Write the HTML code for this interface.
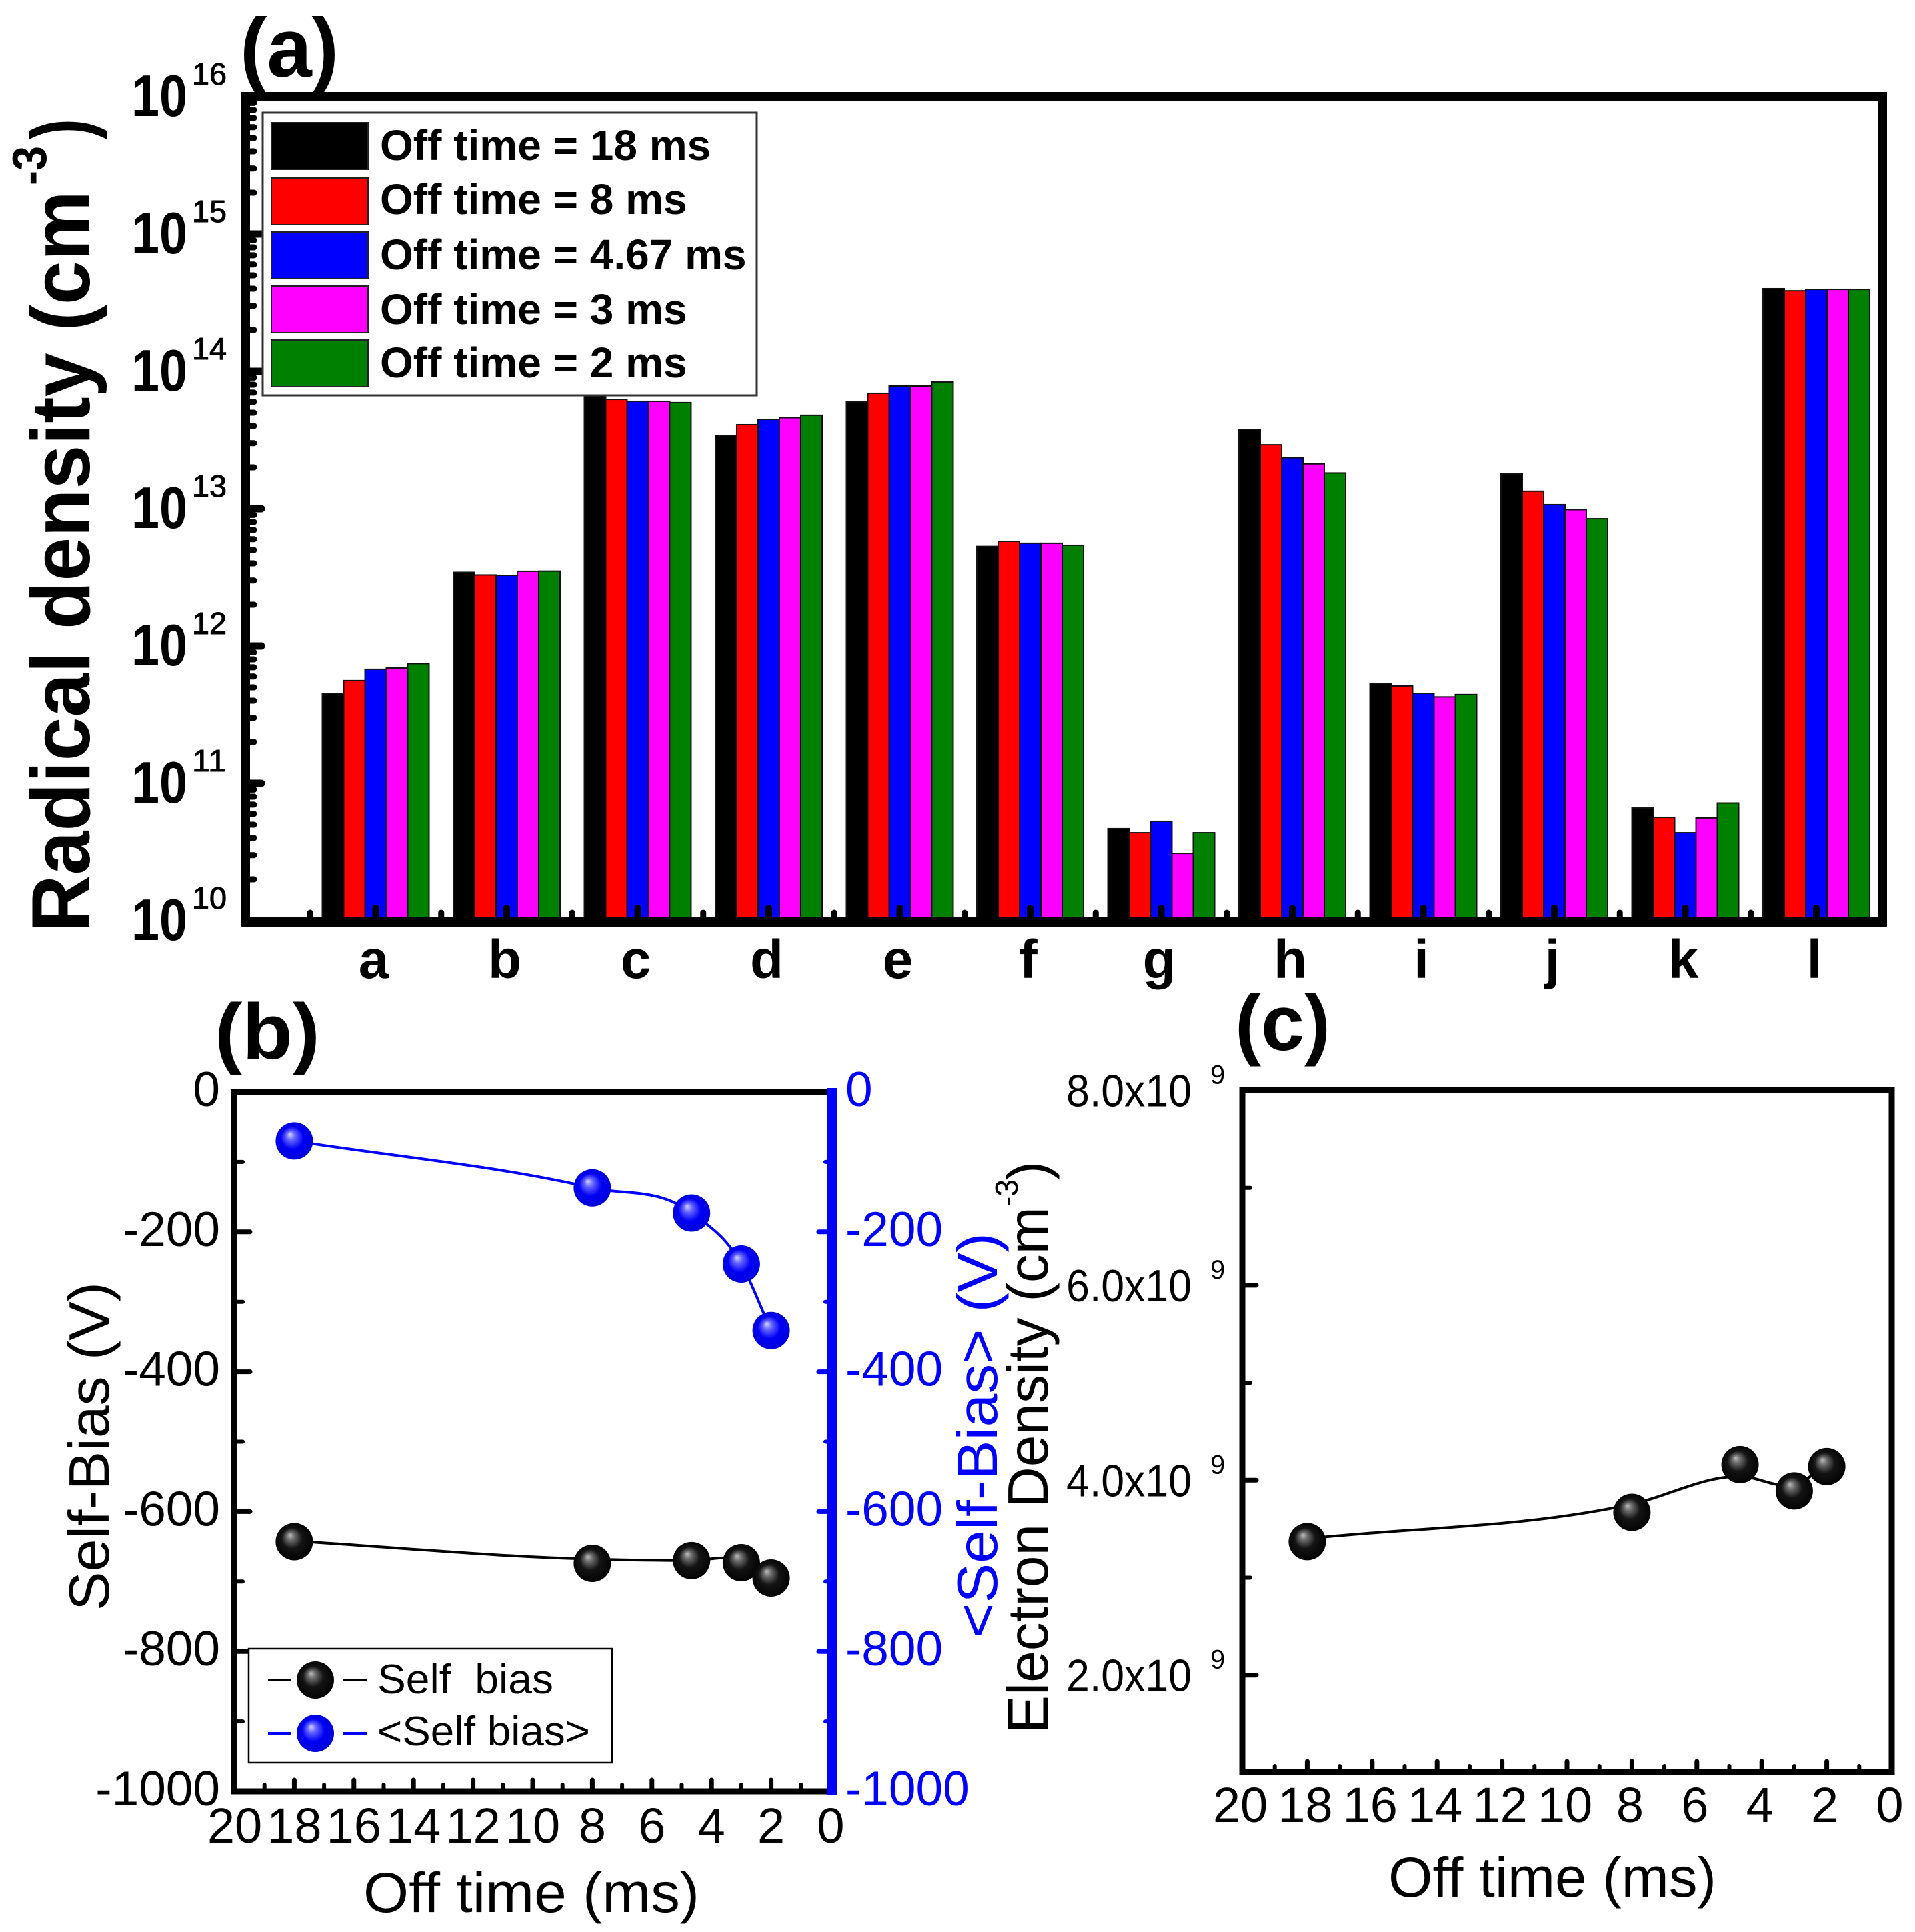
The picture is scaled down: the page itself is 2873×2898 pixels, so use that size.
<!DOCTYPE html>
<html lang="en">
<head>
<meta charset="utf-8">
<title>Radical density, self-bias and electron density versus off time</title>
<style>
html,body{margin:0;padding:0;background:#fff}
svg{display:block}
text{font-family:"Liberation Sans",Arial,sans-serif}
</style>
</head>
<body>
<svg id="figure" xmlns="http://www.w3.org/2000/svg" width="2873" height="2898" viewBox="0 0 2873 2898">
  <defs>
    <radialGradient id="ball-black" cx="0.5" cy="0.5" r="0.55" fx="0.38" fy="0.32">
      <stop offset="0" stop-color="#bdbdbd"/>
      <stop offset="0.2" stop-color="#6a6a6a"/>
      <stop offset="0.5" stop-color="#141414"/>
      <stop offset="1" stop-color="#000"/>
    </radialGradient>
    <radialGradient id="ball-blue" cx="0.5" cy="0.5" r="0.55" fx="0.38" fy="0.32">
      <stop offset="0" stop-color="#d4d4ff"/>
      <stop offset="0.22" stop-color="#6464ff"/>
      <stop offset="0.55" stop-color="#0000f4"/>
      <stop offset="1" stop-color="#0000d8"/>
    </radialGradient>
  </defs>
</svg>
<script>
/* ---------- panel (a) data ---------- */
var categories = ['a','b','c','d','e','f','g','h','i','j','k','l'];
var seriesNames = ['Off time = 18 ms','Off time = 8 ms','Off time = 4.67 ms','Off time = 3 ms','Off time = 2 ms'];
var seriesColors = ['#000000','#ff0000','#0000ff','#ff00ff','#008000'];
var offTime18 = [4.52e11,3.44e12,7.0e13,3.42e13,5.98e13,5.31e12,4.68e10,3.78e13,5.32e11,1.79e13,6.61e10,4.0e14];
var offTime8 = [5.6e11,3.29e12,6.25e13,4.09e13,6.92e13,5.78e12,4.37e10,2.92e13,5.12e11,1.34e13,5.65e10,3.86e14];
var offTime467 = [6.77e11,3.27e12,6.05e13,4.47e13,7.82e13,5.6e12,5.29e10,2.35e13,4.52e11,1.07e13,4.37e10,3.95e14];
var offTime3 = [6.92e11,3.5e12,6.05e13,4.6e13,7.82e13,5.6e12,3.09e10,2.12e13,4.26e11,9.84e12,5.6e10,3.95e14];
var offTime2 = [7.44e11,3.51e12,5.92e13,4.79e13,8.36e13,5.41e12,4.37e10,1.82e13,4.43e11,8.45e12,7.19e10,3.95e14];
var decadeExponents = [10,11,12,13,14,15,16];
var decadeLabels = ['10','10','10','10','10','10','10'];

/* ---------- panel (b) data ---------- */
var offTimes = [18,8,4.67,3,2];
var selfBias = [-643,-674,-670,-673,-695];
var selfBiasTrend = [-642,-668,-670,-670,-695];
var meanSelfBias = [-70,-137,-173,-246,-341];
var biasTicks = [0,-200,-400,-600,-800,-1000];
var biasMinorTicks = [-100,-300,-500,-700,-900];
var timeTicks = [20,18,16,14,12,10,8,6,4,2,0];
var timeMinorTicks = [19,17,15,13,11,9,7,5,3,1];

/* ---------- panel (c) data ---------- */
var electronDensity = [3.37,3.67,4.16,3.89,4.14];
var electronDensityTrend = [3.4,3.755,4.04,3.96,4.14];
var densityTicks = [8,6,4,2];
var densityTickLabels = ['8.0x10','6.0x10','4.0x10','2.0x10'];
var densityMinorTicks = [7,5,3];

/* ---------- axis functions ---------- */
function yA(v){ return 1381 - 206 * (Math.log10(v) - 10); }
function xA(i){ return 563.5 + 196.5 * i; }
function xB(t){ return 1246 - 44.7 * t; }
function yB(v){ return 1638 - 1.049 * v; }
function xC(t){ return 2838 - 48.7 * t; }
function yC(v){ return 1635.5 + (8 - v) * 146.2; }

/* ---------- helpers ---------- */
var NS = 'http://www.w3.org/2000/svg';
var root = document.getElementById('figure');
function make(tag, attrs, parent){
  var n = document.createElementNS(NS, tag);
  for (var k in attrs) n.setAttribute(k, attrs[k]);
  (parent || root).appendChild(n);
  return n;
}
function group(){
  return make('g', {});
}
function line(x1,y1,x2,y2,color,w,cap,parent){
  return make('line',{x1:x1,y1:y1,x2:x2,y2:y2,stroke:color,'stroke-width':w,'stroke-linecap':cap||'butt'},parent);
}
function label(str,x,y,size,opts,parent){
  var a = {x:x,y:y,'font-size':size,fill:(opts&&opts.fill)||'#000'};
  if (opts&&opts.bold) a['font-weight']='bold';
  if (opts&&opts.anchor) a['text-anchor']=opts.anchor;
  if (opts&&opts.len){ a.textLength=opts.len; a.lengthAdjust='spacingAndGlyphs'; }
  if (opts&&opts.rot) a.transform='rotate(-90 '+x+' '+y+')';
  var n = make('text',a,parent);
  n.textContent = str;
  return n;
}
/* non-uniform cubic through points, so unequal x spacing does not overshoot */
function smoothPath(pts){
  var n = pts.length, slopes = [], i;
  for (i=0;i<n;i++){
    if (i===0){ slopes.push((pts[1][1]-pts[0][1])/(pts[1][0]-pts[0][0])); }
    else if (i===n-1){ slopes.push((pts[n-1][1]-pts[n-2][1])/(pts[n-1][0]-pts[n-2][0])); }
    else {
      var h0=pts[i][0]-pts[i-1][0], h1=pts[i+1][0]-pts[i][0];
      var d0=(pts[i][1]-pts[i-1][1])/h0, d1=(pts[i+1][1]-pts[i][1])/h1;
      slopes.push((h1*d0+h0*d1)/(h0+h1));
    }
  }
  var d = 'M'+pts[0][0]+' '+pts[0][1];
  for (i=0;i<n-1;i++){
    var h=pts[i+1][0]-pts[i][0];
    d+=' C'+(pts[i][0]+h/3)+' '+(pts[i][1]+slopes[i]*h/3)+' '+(pts[i+1][0]-h/3)+' '+(pts[i+1][1]-slopes[i+1]*h/3)+' '+pts[i+1][0]+' '+pts[i+1][1];
  }
  return d;
}
var el;

/* ---------- panel labels ---------- */
el = label('(a)',360,115,125,{bold:true,len:148});


el = label('(b)',322,1588,118,{bold:true,len:158});


el = label('(c)',1853,1575,118,{bold:true,len:143});



/* ---------- panel (a) bars ---------- */
var allSeries = [offTime18,offTime8,offTime467,offTime3,offTime2];
var barsA = group();


var BAR_W = 32;
allSeries.forEach(function(values,s){
  values.forEach(function(v,i){
    var x = xA(i) - 80 + s * BAR_W;
    var top = yA(v);
    var bar = make('rect',{x:x,y:top,width:BAR_W,height:Math.max(1378-top,0),fill:seriesColors[s],stroke:'#111','stroke-width':2},barsA);
    
    
  });
});

/* panel (a) frame */
el = make('rect',{x:368,y:145,width:2456,height:1238,fill:'none',stroke:'#000','stroke-width':14});



/* panel (a) ticks */
var ticksA = group();


decadeExponents.forEach(function(e,idx){
  var yy = yA(Math.pow(10,e));
  if (idx>0 && idx<decadeExponents.length-1){
    var t = line(372,yy,392,yy,'#000',11,'round',ticksA);
    
    
  }
  if (idx<decadeExponents.length-1){
    for (var m=2;m<10;m++){
      var ym = yA(m*Math.pow(10,e));
      var mt = line(372,ym,381,ym,'#000',9,'round',ticksA);
      
      
    }
  }
  var lab = label(decadeLabels[idx],197,yy+29,88,{bold:true,len:84});
  
  
  var sup = label(String(e),288,yy-18,46,{len:52});
  sup.setAttribute('stroke', '#000');
  sup.setAttribute('stroke-width', '1');
  
  
});
categories.forEach(function(c,i){
  var cx = xA(i);
  var t = line(cx,1380,cx,1362,'#000',10,'round',ticksA);
  
  
  var mx = cx - 98.25;
  var mt = line(mx,1380,mx,1369,'#000',9,'round',ticksA);
  
  
  var lab = label(c,cx-3,1467,82,{bold:true,anchor:'middle'});
  
  
});

/* panel (a) y title */
el = label('Radical density (cm',134,1398,124,{bold:true,rot:true,len:1112});


el = label('-3',69,278,72,{bold:true,rot:true,len:59});


el = label(')',134,209,124,{bold:true,rot:true,len:31});



/* panel (a) legend */
var legendA = group();


el = make('rect',{x:394,y:169,width:741,height:424,fill:'#fff',stroke:'#333','stroke-width':3},legendA);


var legendSwatchTop = [184,267,348,429,510];
var legendBaseline = [240,321,404,486,566];
seriesNames.forEach(function(name,s){
  var sw = make('rect',{x:407,y:legendSwatchTop[s],width:145,height:70,fill:seriesColors[s],stroke:'#222','stroke-width':2},legendA);
  
  
  var tx = label(name,570,legendBaseline[s],64,{bold:true},legendA);
  
  
});

/* ---------- panel (b) ---------- */
var BLUE = '#0000ff';
el = line(347,1638,1246,1638,'#000',9);


el = line(351,1634,351,2691,'#000',9);


el = line(347,2687,1246,2687,'#000',9);


el = line(1248,1632,1248,2692,BLUE,14);



biasTicks.forEach(function(v){
  var yy = yB(v);
  if (v!==0 && v!==-1000){
    var t = line(351,yy,375,yy,'#000',7,'round');
    
    
    var r = line(1246,yy,1228,yy,BLUE,7,'round');
    
    
  }
  var lab = label(String(v),330,yy+21,73,{anchor:'end'});
  
  
  var rl = label(String(v),1268,yy+21,73,{fill:BLUE});
  
  
});
biasMinorTicks.forEach(function(v){
  var yy = yB(v);
  var t = line(351,yy,364,yy,'#000',6,'round');
  
  
  var r = line(1246,yy,1238,yy,BLUE,6,'round');
  
  
});
timeTicks.forEach(function(t0){
  var xx = xB(t0);
  if (t0!==20 && t0!==0){
    var t = line(xx,2687,xx,2670,'#000',7,'round');
    
    
  }
  var lab = label(String(t0),xx,2764,74,{anchor:'middle'});
  
  
});
timeMinorTicks.forEach(function(t0){
  var xx = xB(t0);
  var t = line(xx,2687,xx,2677,'#000',6,'round');
  
  
});

el = make('path',{d:smoothPath(offTimes.map(function(t,i){return [xB(t),yB(selfBiasTrend[i])];})),fill:'none',stroke:'#000','stroke-width':4});


el = make('path',{d:smoothPath(offTimes.map(function(t,i){return [xB(t),yB(meanSelfBias[i])];})),fill:'none',stroke:BLUE,'stroke-width':4});


offTimes.forEach(function(t,i){
  var a = make('circle',{cx:xB(t),cy:yB(selfBias[i]),r:28,fill:'url(#ball-black)'});
  
  
  var b = make('circle',{cx:xB(t),cy:yB(meanSelfBias[i]),r:28,fill:'url(#ball-blue)'});
  
  
});

/* panel (b) legend */
var legendB = group();


el = make('rect',{x:373,y:2473,width:545,height:171,fill:'#fff',stroke:'#000','stroke-width':2.5},legendB);


el = line(402,2520,436,2520,'#000',4,'butt',legendB);


el = line(514,2520,550,2520,'#000',4,'butt',legendB);


el = make('circle',{cx:473,cy:2520,r:28,fill:'url(#ball-black)'},legendB);


el = label('Self  bias',566,2540,62,{len:264},legendB);
el.style.whiteSpace = 'pre';


el = line(402,2600,436,2600,BLUE,4,'butt',legendB);


el = line(514,2600,550,2600,BLUE,4,'butt',legendB);


el = make('circle',{cx:473,cy:2600,r:28,fill:'url(#ball-blue)'},legendB);


el = label('<Self bias>',566,2618,62,{len:319},legendB);



/* panel (b) titles */
el = label('Self-Bias (V)',163,2416,85,{rot:true,len:493});


el = label('<Self-Bias> (V)',1496,2457,85,{rot:true,len:608,fill:BLUE});


el = label('Off time (ms)',545,2868,84,{len:504});



/* ---------- panel (c) ---------- */
el = make('rect',{x:1864,y:1635.5,width:974,height:1022.5,fill:'none',stroke:'#000','stroke-width':9});


densityTicks.forEach(function(v,i){
  var yy = yC(v);
  if (v!==8){
    var t = line(1864,yy,1885,yy,'#000',7,'round');
    
    
  }
  var lab = label(densityTickLabels[i],1600,yy+24,68,{len:188});
  
  
  var sup = label('9',1816,yy-10,40,{});
  
  
});
densityMinorTicks.forEach(function(v){
  var yy = yC(v);
  var t = line(1864,yy,1876,yy,'#000',6,'round');
  
  
});
timeTicks.forEach(function(t0){
  var xx = xC(t0);
  if (t0!==20 && t0!==0){
    var t = line(xx,2658,xx,2642,'#000',7,'round');
    
    
  }
  var lab = label(String(t0),xx-3,2733,74,{anchor:'middle'});
  
  
});
timeMinorTicks.forEach(function(t0){
  var xx = xC(t0);
  var t = line(xx,2658,xx,2649,'#000',6,'round');
  
  
});
el = make('path',{d:smoothPath(offTimes.map(function(t,i){return [xC(t),yC(electronDensityTrend[i])];})),fill:'none',stroke:'#000','stroke-width':4});


offTimes.forEach(function(t,i){
  var a = make('circle',{cx:xC(t),cy:yC(electronDensity[i]),r:28,fill:'url(#ball-black)'});
  
  
});
el = label('Electron Density (cm',1572,2600,85,{rot:true,len:790});


el = label('-3',1527,1810,48,{rot:true,len:41});


el = label(')',1572,1770,85,{rot:true});


el = label('Off time (ms)',2083,2845,84,{len:492});


</script>
</body>
</html>
